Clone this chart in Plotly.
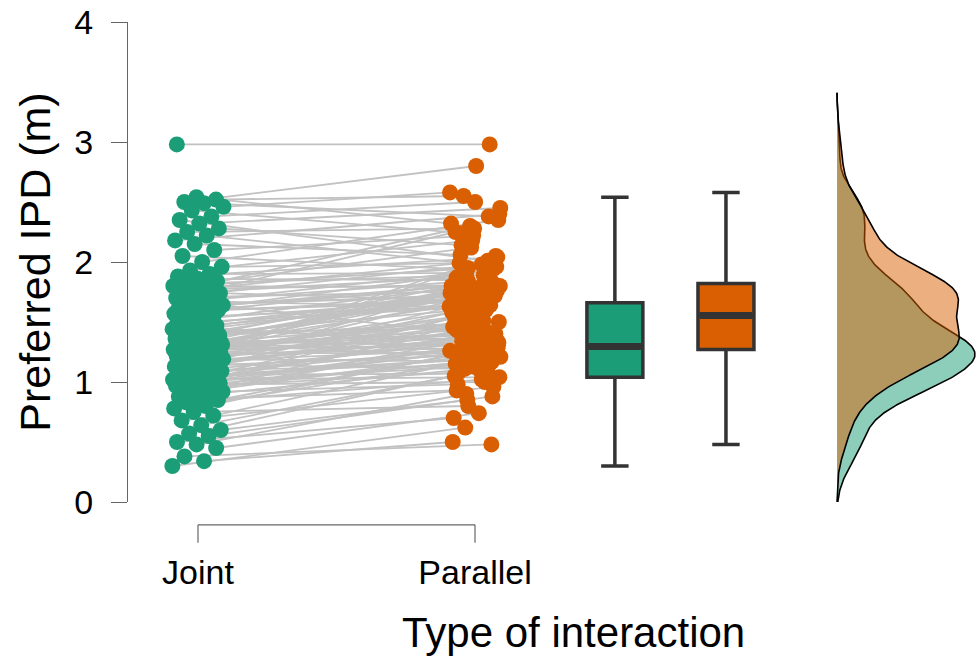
import numpy as np
import plotly.graph_objects as go

categories = ["Joint", "Parallel"]

joint = [
    0.30, 0.34, 0.38, 0.45, 0.48, 0.50, 0.55, 0.57, 0.60, 0.64, 0.68, 0.72, 0.75, 0.78, 0.80,
    0.83, 0.85, 0.86, 0.88, 0.90, 0.91, 0.92, 0.93, 0.94, 0.95, 0.96, 0.97, 0.98, 0.98, 0.99,
    1.00, 1.00, 1.01, 1.02, 1.02, 1.03, 1.03,
    1.04, 1.05, 1.06, 1.07, 1.08, 1.09, 1.10, 1.10, 1.11, 1.12, 1.13, 1.14, 1.15, 1.15, 1.16,
    1.17, 1.18, 1.18, 1.19, 1.20, 1.20, 1.21, 1.22, 1.22, 1.23, 1.24, 1.24, 1.25, 1.25, 1.26,
    1.26, 1.27, 1.27, 1.28, 1.28, 1.29, 1.29, 1.29,
    1.30, 1.31, 1.32, 1.33, 1.34, 1.35, 1.36, 1.37, 1.38, 1.39, 1.40, 1.41, 1.42, 1.43, 1.44,
    1.45, 1.46, 1.47, 1.48, 1.49, 1.31, 1.51, 1.33, 1.53, 1.35, 1.55, 1.32, 1.57, 1.34, 1.59,
    1.60, 1.61, 1.62, 1.63, 1.64, 1.64, 1.65,
    1.66, 1.67, 1.68, 1.70, 1.71, 1.72, 1.74, 1.75, 1.76, 1.78, 1.79, 1.80, 1.81, 1.82, 1.84,
    1.86, 1.88, 1.90, 1.93, 1.96, 2.00, 2.05, 2.10, 2.15, 2.18, 2.22, 2.25, 2.28, 2.32, 2.35,
    2.38, 2.43, 2.46, 2.49, 2.50, 2.52, 2.54, 2.98,
]

parallel = [
    0.62, 0.50, 0.48, 0.74, 0.90, 0.70, 0.88, 1.10, 0.85, 1.05, 0.96, 1.20, 0.80, 1.15, 1.30,
    1.02, 1.25, 0.93, 1.40, 1.12, 1.22, 0.98, 1.35, 1.18, 1.50, 1.08, 1.28, 1.00, 1.45, 1.16,
    1.33, 1.60, 1.13, 1.24, 1.04, 1.42, 1.19,
    1.55, 1.21, 1.07, 1.36, 1.65, 1.26, 1.14, 1.48, 1.32, 1.75, 1.23, 1.44, 1.11, 1.58, 1.38,
    1.27, 1.36, 1.46, 1.17, 1.52, 1.34, 1.68, 1.29, 1.41, 1.95, 1.53, 1.24, 1.62, 1.37, 1.49,
    1.72, 1.31, 1.56, 1.43, 2.05, 1.51, 1.39, 1.78,
    1.76, 1.20, 1.66, 1.47, 1.30, 1.78, 1.30, 1.70, 1.50, 1.75, 1.61, 1.45, 1.80, 1.72, 1.35,
    1.34, 1.63, 1.79, 1.74, 1.62, 1.74, 1.82, 1.40, 1.69, 1.80, 1.64, 1.27, 1.81, 1.77, 1.70,
    1.67, 1.90, 1.77, 1.83, 1.73, 1.40, 1.71,
    1.94, 1.62, 1.84, 2.25, 1.76, 1.98, 1.68, 1.87, 2.02, 1.81, 2.30, 1.79, 1.96, 1.89, 2.12,
    1.85, 2.04, 1.91, 2.18, 1.99, 2.35, 1.93, 2.22, 2.06, 2.40, 1.97, 2.28, 2.14, 2.45, 2.01,
    2.50, 2.24, 2.58, 2.38, 2.80, 2.55, 2.32, 2.98,
]

y_ticks = [0, 1, 2, 3, 4]
y_title = "Preferred IPD (m)"
x_title = "Type of interaction"

# ---------------- styling / positions ----------------
GREEN = "#1b9e77"
ORANGE = "#d95f02"
GREEN_A = "rgba(27,158,119,0.5)"
ORANGE_A = "rgba(217,95,2,0.5)"
BOX_LINE = "#333333"
AXIS = "#666666"
FONT = "Liberation Sans, Arial, sans-serif"

pos_joint, pos_par = 1.0, 2.0
box_pos = [2.505, 2.906]
box_w = 0.202
dens_base = 3.307
dens_width = 0.498
dens_lo, dens_hi = 0.0, 3.41
KDE_BW = 0.155
jit_w = 0.185

J = np.array(joint)
P = np.array(parallel)
n = len(J)
idx = np.arange(n)
xj = pos_joint + ((idx * 0.6180339887) % 1 - 0.5) * jit_w
xp = pos_par + ((idx * 0.7548776662 + 0.31) % 1 - 0.5) * jit_w

fig = go.Figure()

# connecting lines
lx, ly = [], []
for a, b, ya, yb in zip(xj, xp, J, P):
    lx += [a, b, None]
    ly += [ya, yb, None]
fig.add_trace(go.Scatter(x=lx, y=ly, mode="lines",
                         line=dict(color="#c2c2c2", width=1.8),
                         hoverinfo="skip", showlegend=False))

# points
fig.add_trace(go.Scatter(x=xj, y=J, mode="markers",
                         marker=dict(color=GREEN, size=16, line=dict(width=0)),
                         name=categories[0], showlegend=False))
fig.add_trace(go.Scatter(x=xp, y=P, mode="markers",
                         marker=dict(color=ORANGE, size=16, line=dict(width=0)),
                         name=categories[1], showlegend=False))

# boxplots
for vals, pos, col, name in [(J, box_pos[0], GREEN, categories[0]),
                             (P, box_pos[1], ORANGE, categories[1])]:
    fig.add_trace(go.Box(y=vals, x=[pos] * len(vals), width=box_w,
                         fillcolor=col, line=dict(color=BOX_LINE, width=3.5),
                         whiskerwidth=0.49, boxpoints="outliers",
                         marker=dict(opacity=0, size=1),
                         name=name, showlegend=False))
    med = float(np.median(vals))
    fig.add_trace(go.Scatter(x=[pos - box_w / 2 + 0.006, pos + box_w / 2 - 0.006],
                             y=[med, med], mode="lines",
                             line=dict(color=BOX_LINE, width=7),
                             hoverinfo="skip", showlegend=False))

# densities (Gaussian KDE)
def kde(v, grid, bw):
    v = np.asarray(v)
    z = (grid[:, None] - v[None, :]) / bw
    return np.exp(-0.5 * z ** 2).sum(axis=1) / (len(v) * bw * np.sqrt(2 * np.pi))

grid = np.linspace(dens_lo, dens_hi, 400)
dj = kde(J, grid, KDE_BW)
dp = kde(P, grid, KDE_BW)
scale = dens_width / max(dj.max(), dp.max())
for d, fc in [(dj, GREEN_A), (dp, ORANGE_A)]:
    xs = np.concatenate([[dens_base], dens_base + d * scale, [dens_base]])
    ys = np.concatenate([[dens_lo], grid, [dens_hi]])
    fig.add_trace(go.Scatter(x=xs, y=ys, mode="lines", fill="toself", fillcolor=fc,
                             line=dict(color="black", width=1.6),
                             hoverinfo="skip", showlegend=False))

# x-axis bracket (R style axis spanning the two conditions)
yb_line = -0.19 / 4
yb_tick = -0.34 / 4
fig.add_shape(type="line", xref="x", yref="paper", x0=pos_joint, x1=pos_par,
              y0=yb_line, y1=yb_line, line=dict(color=AXIS, width=1.2))
for p in (pos_joint, pos_par):
    fig.add_shape(type="line", xref="x", yref="paper", x0=p, x1=p,
                  y0=yb_line, y1=yb_tick, line=dict(color=AXIS, width=1.2))

fig.add_annotation(text=x_title, x=2.354, xref="x", y=-0.272, yref="paper",
                   yanchor="middle", showarrow=False,
                   font=dict(size=42, color="black", family=FONT))

fig.update_layout(
    width=979, height=659,
    margin=dict(l=128, r=0, t=22, b=157),
    paper_bgcolor="white", plot_bgcolor="white",
    boxmode="overlay",
    font=dict(family=FONT, color="black"),
    xaxis=dict(range=[0.7473, 3.8195], tickvals=[pos_joint, pos_par], ticktext=categories,
               showgrid=False, zeroline=False, showline=False, ticks="", automargin=False,
               ticklabelstandoff=47, tickfont=dict(size=34, color="black")),
    yaxis=dict(range=[0, 4], tickvals=y_ticks, showgrid=False, zeroline=False,
               showline=True, linecolor=AXIS, linewidth=1.2, automargin=False,
               ticks="outside", ticklen=16, tickcolor=AXIS, tickwidth=1.2,
               ticklabelstandoff=11, ticklabeloverflow="allow",
               tickfont=dict(size=34, color="black"),
               title=dict(text=y_title, font=dict(size=43, color="black"), standoff=10)),
)

# remove the default 8px page margin so the figure fills the window exactly
fig.write_html("out.html", config={"displayModeBar": False},
               post_script="document.body.style.margin='0px';document.body.style.overflow='hidden';")
